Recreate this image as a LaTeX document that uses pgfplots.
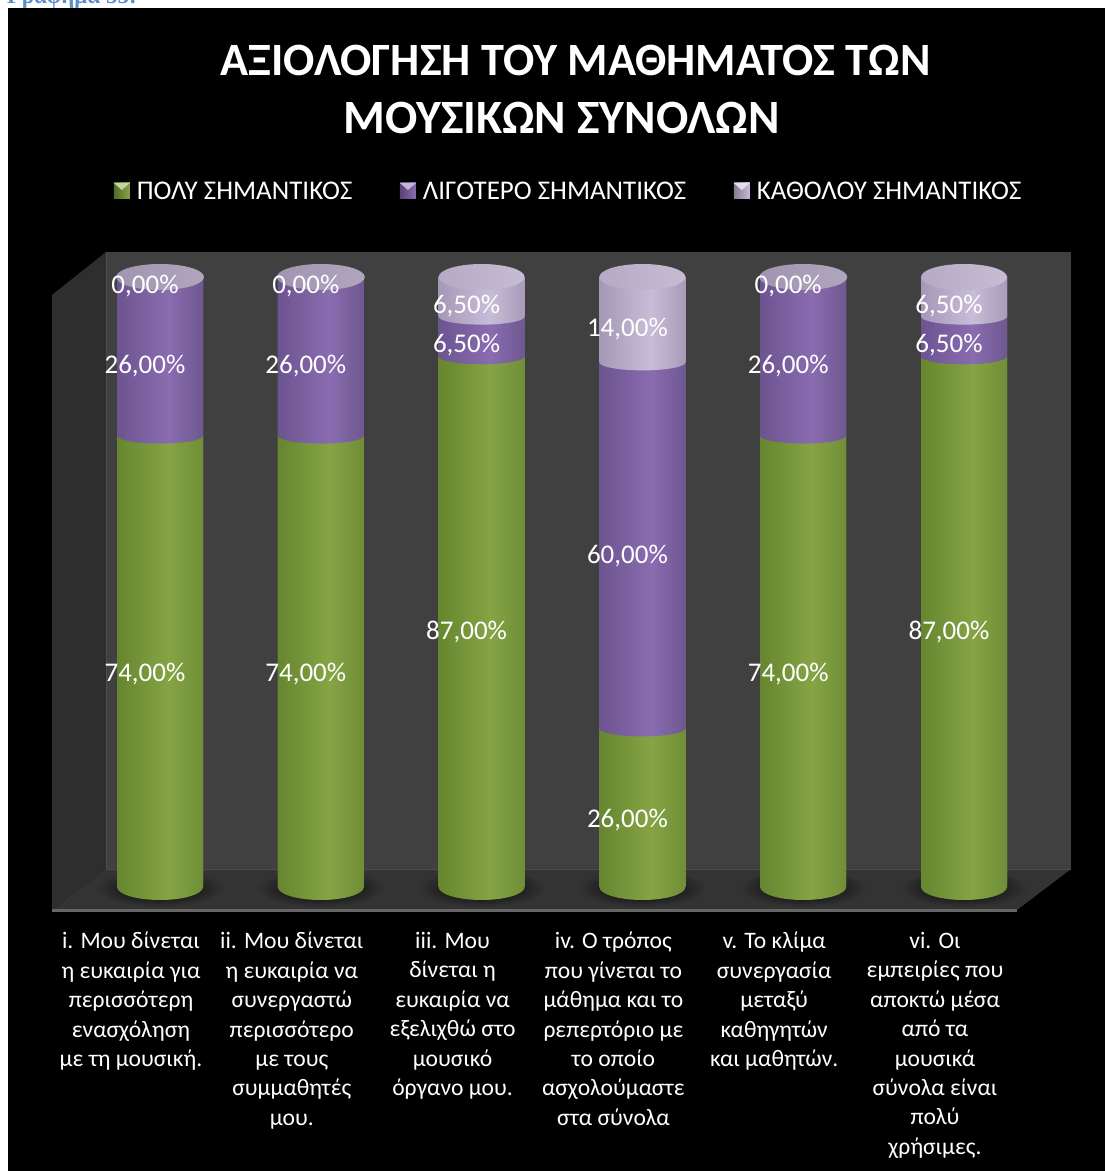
\documentclass[border=0pt]{standalone}
\usepackage{pgfplots}
\pgfplotsset{compat=1.18}
\usepackage{fontspec}
\setmainfont{Carlito}
\newfontfamily\capfont{Liberation Serif}
\definecolor{capblue}{HTML}{5B8FC8}
\definecolor{gA}{HTML}{66862F}\definecolor{gB}{HTML}{86A444}\definecolor{gC}{HTML}{6F8E37}
\definecolor{pA}{HTML}{6C5490}\definecolor{pB}{HTML}{8A6CB0}\definecolor{pC}{HTML}{6E5890}
\definecolor{lA}{HTML}{A498B6}\definecolor{lB}{HTML}{C8BDD9}\definecolor{lC}{HTML}{A79BB8}
\definecolor{tA}{HTML}{B4AAC4}\definecolor{tB}{HTML}{C6BDD4}
\definecolor{zA}{HTML}{A095B0}\definecolor{zB}{HTML}{B0A6BE}
\definecolor{floorc}{HTML}{333333}
\pgfdeclarehorizontalshading{gcyl}{100bp}{color(0bp)=(gA);color(25bp)=(gA);color(55bp)=(gB);color(75bp)=(gC);color(100bp)=(gC)}
\pgfdeclarehorizontalshading{pcyl}{100bp}{color(0bp)=(pA);color(25bp)=(pA);color(55bp)=(pB);color(75bp)=(pC);color(100bp)=(pC)}
\pgfdeclarehorizontalshading{lcyl}{100bp}{color(0bp)=(lA);color(25bp)=(lA);color(55bp)=(lB);color(75bp)=(lC);color(100bp)=(lC)}
\pgfdeclareplotmark{shadow}{\shade[draw=none,inner color=black,outer color=floorc,rotate=5] (0pt,-1pt) ellipse (64pt and 19pt);}
\pgfdeclareplotmark{gell}{\shade[draw=none,shading=gcyl,rotate=5] (0pt,0pt) ellipse (43pt and 13pt);}
\pgfdeclareplotmark{pell}{\shade[draw=none,shading=pcyl,rotate=5] (0pt,0pt) ellipse (43pt and 8pt);}
\pgfdeclareplotmark{lell}{\shade[draw=none,shading=lcyl,rotate=5] (0pt,0pt) ellipse (43pt and 8pt);}
\pgfdeclareplotmark{ltop}{\shade[draw=none,left color=tA,right color=tB,rotate=5] (0pt,0pt) ellipse (43pt and 13pt);}
\pgfdeclareplotmark{ztop}{\shade[draw=none,left color=zA,right color=zB,rotate=5] (0pt,0pt) ellipse (44pt and 13pt);}
\newcommand\lgd[3]{\shade[left color=#1!80!black,right color=#2] (0,-8pt) rectangle (16pt,8pt);\fill[#3] (0,8pt)--(16pt,8pt)--(8pt,1pt)--cycle;}
\pgfplotsset{geom/.style={anchor=south west, at={(79.6pt,284pt)},
  x=160.8pt, y=6.1pt, xmin=-0.5, xmax=5.5, ymin=0, ymax=100, clip=false}}
% one cylinder: index, green, purple, light, cap mark
\newcommand\cyl[5]{%
\begin{axis}[geom,axis lines=none,stack plots=y,reverse stacked plots=false,ticks=none]
\addplot[only marks,mark=gell] coordinates {(#1,0)};
\addplot[ybar,bar width=86pt,bar shift=0pt,draw=none,shade,shading=gcyl] coordinates {(#1,#2)};
\addplot[only marks,mark=pell] coordinates {(#1,0)};
\addplot[ybar,bar width=86pt,bar shift=0pt,draw=none,shade,shading=pcyl] coordinates {(#1,#3)};
\ifdim#4pt>0pt
\addplot[only marks,mark=lell] coordinates {(#1,0)};
\addplot[ybar,bar width=86pt,bar shift=0pt,draw=none,shade,shading=lcyl] coordinates {(#1,#4)};
\fi
\addplot[only marks,mark=#5] coordinates {(#1,0)};
\end{axis}}
\begin{document}
\begin{tikzpicture}[x=1pt,y=1pt]
\useasboundingbox (0,0) rectangle (1105,1171);
\begin{scope}
\clip (0,0) rectangle (1105,1171);
\node[anchor=base west,inner sep=0,text=capblue,font=\capfont\bfseries\fontsize{23}{23}\selectfont] at (7,1167) {Γράφημα 55:};
\end{scope}
\fill[black] (8,0) rectangle (1105,1163);
% walls
\fill[black!75] (106,919)--(1071,919)--(1071,302)--(106,302)--cycle;
\fill[black!82] (52,876)--(106,919)--(106,302)--(52,261)--cycle;
\fill[floorc] (52,261)--(106,302)--(1071,302)--(1017,261)--cycle;
\draw[black!70,line width=.7pt] (106,919)--(106,302)--(1071,302);
\fill[black!60] (52,259) rectangle (1017,262);
\begin{axis}[geom,axis lines=none,ticks=none]
\addplot[only marks,mark=shadow] coordinates {(0,0)(1,0)(2,0)(3,0)(4,0)(5,0)};
\end{axis}
\begin{axis}[geom,
  hide y axis,
  axis x line=bottom, x axis line style={draw=none},
  xtick={0,1,2,3,4,5}, major tick length=0pt,
  xticklabels={
    {i. Μου δίνεται\\η ευκαιρία για\\περισσότερη\\ενασχόληση\\με τη μουσική.},
    {ii. Μου δίνεται\\η ευκαιρία να\\συνεργαστώ\\περισσότερο\\με τους\\συμμαθητές\\μου.},
    {iii. Μου\\δίνεται η\\ευκαιρία να\\εξελιχθώ στο\\μουσικό\\όργανο μου.},
    {iv. Ο τρόπος\\που γίνεται το\\μάθημα και το\\ρεπερτόριο με\\το οποίο\\ασχολούμαστε\\στα σύνολα},
    {v. Το κλίμα\\συνεργασία\\μεταξύ\\καθηγητών\\και μαθητών.},
    {vi. Οι\\εμπειρίες που\\αποκτώ μέσα\\από τα\\μουσικά\\σύνολα είναι\\πολύ\\χρήσιμες.}},
  xticklabel style={align=center,text=white,font=\fontsize{23.6}{29.4}\selectfont,anchor=north,xshift=-29pt,yshift=-45pt,inner sep=0pt},
  ybar stacked, bar width=86pt,
  title={ΑΞΙΟΛΟΓΗΣΗ ΤΟΥ ΜΑΘΗΜΑΤΟΣ ΤΩΝ\\{\fontsize{47.8}{58}\selectfont ΜΟΥΣΙΚΩΝ ΣΥΝΟΛΩΝ}\hspace*{28pt}},
  title style={at={(rel axis cs:0,1)},anchor=north,align=center,text=white,
    font=\bfseries\fontsize{46.3}{58}\selectfont,xshift=496pt,yshift=226pt,inner sep=0pt},
  legend style={at={(rel axis cs:0,1)},anchor=west,draw=none,fill=none,text=white,
    font=\fontsize{27}{27}\selectfont,legend columns=3,xshift=34pt,yshift=86pt,
    /tikz/every even column/.append style={column sep=45.5pt},
    /tikz/every odd column/.append style={column sep=5pt},inner sep=0pt},
  legend cell align=left,
]
\addplot[draw=none,fill=gB,legend image code/.code={\lgd{gA}{gB}{gB!50!white}}] coordinates {(0,74)(1,74)(2,87)(3,26)(4,74)(5,87)};
\addlegendentry{ΠΟΛΎ ΣΗΜΑΝΤΙΚΟΣ}
\addplot[draw=none,fill=pB,legend image code/.code={\lgd{pA}{pB}{pB!50!white}}] coordinates {(0,26)(1,26)(2,6.5)(3,60)(4,26)(5,6.5)};
\addlegendentry{ΛΙΓΟΤΕΡΟ ΣΗΜΑΝΤΙΚΟΣ}
\addplot[draw=none,fill=lB,legend image code/.code={\lgd{lA}{lB}{lB!50!white}}] coordinates {(0,0)(1,0)(2,6.5)(3,14)(4,0)(5,6.5)};
\addlegendentry{ΚΑΘΟΛΟΥ ΣΗΜΑΝΤΙΚΟΣ}
\end{axis}
\cyl{0}{74}{26}{0}{ztop}
\cyl{1}{74}{26}{0}{ztop}
\cyl{2}{87}{6.5}{6.5}{ltop}
\cyl{3}{26}{60}{14}{ltop}
\cyl{4}{74}{26}{0}{ztop}
\cyl{5}{87}{6.5}{6.5}{ltop}
\begin{axis}[geom, axis lines=none,
  point meta=explicit symbolic,
  nodes near coords,
  nodes near coords style={anchor=center,text=white,font=\fontsize{27}{27}\selectfont,xshift=-15pt,yshift=-9pt,inner sep=0pt},
]
\addplot[only marks,mark=none,draw=none] table[meta=lab] {
x y lab
0 36.4 {74,00\%}
1 36.4 {74,00\%}
2 43.2 {87,00\%}
3 12.4 {26,00\%}
4 36.4 {74,00\%}
5 43.2 {87,00\%}
0 86.9 {26,00\%}
1 86.9 {26,00\%}
2 90.25 {6,50\%}
3 55.7 {60,00\%}
4 86.9 {26,00\%}
5 90.25 {6,50\%}
0 100 {0,00\%}
1 100 {0,00\%}
2 96.75 {6,50\%}
3 92.9 {14,00\%}
4 100 {0,00\%}
5 96.75 {6,50\%}
};
\end{axis}
\end{tikzpicture}
\end{document}
